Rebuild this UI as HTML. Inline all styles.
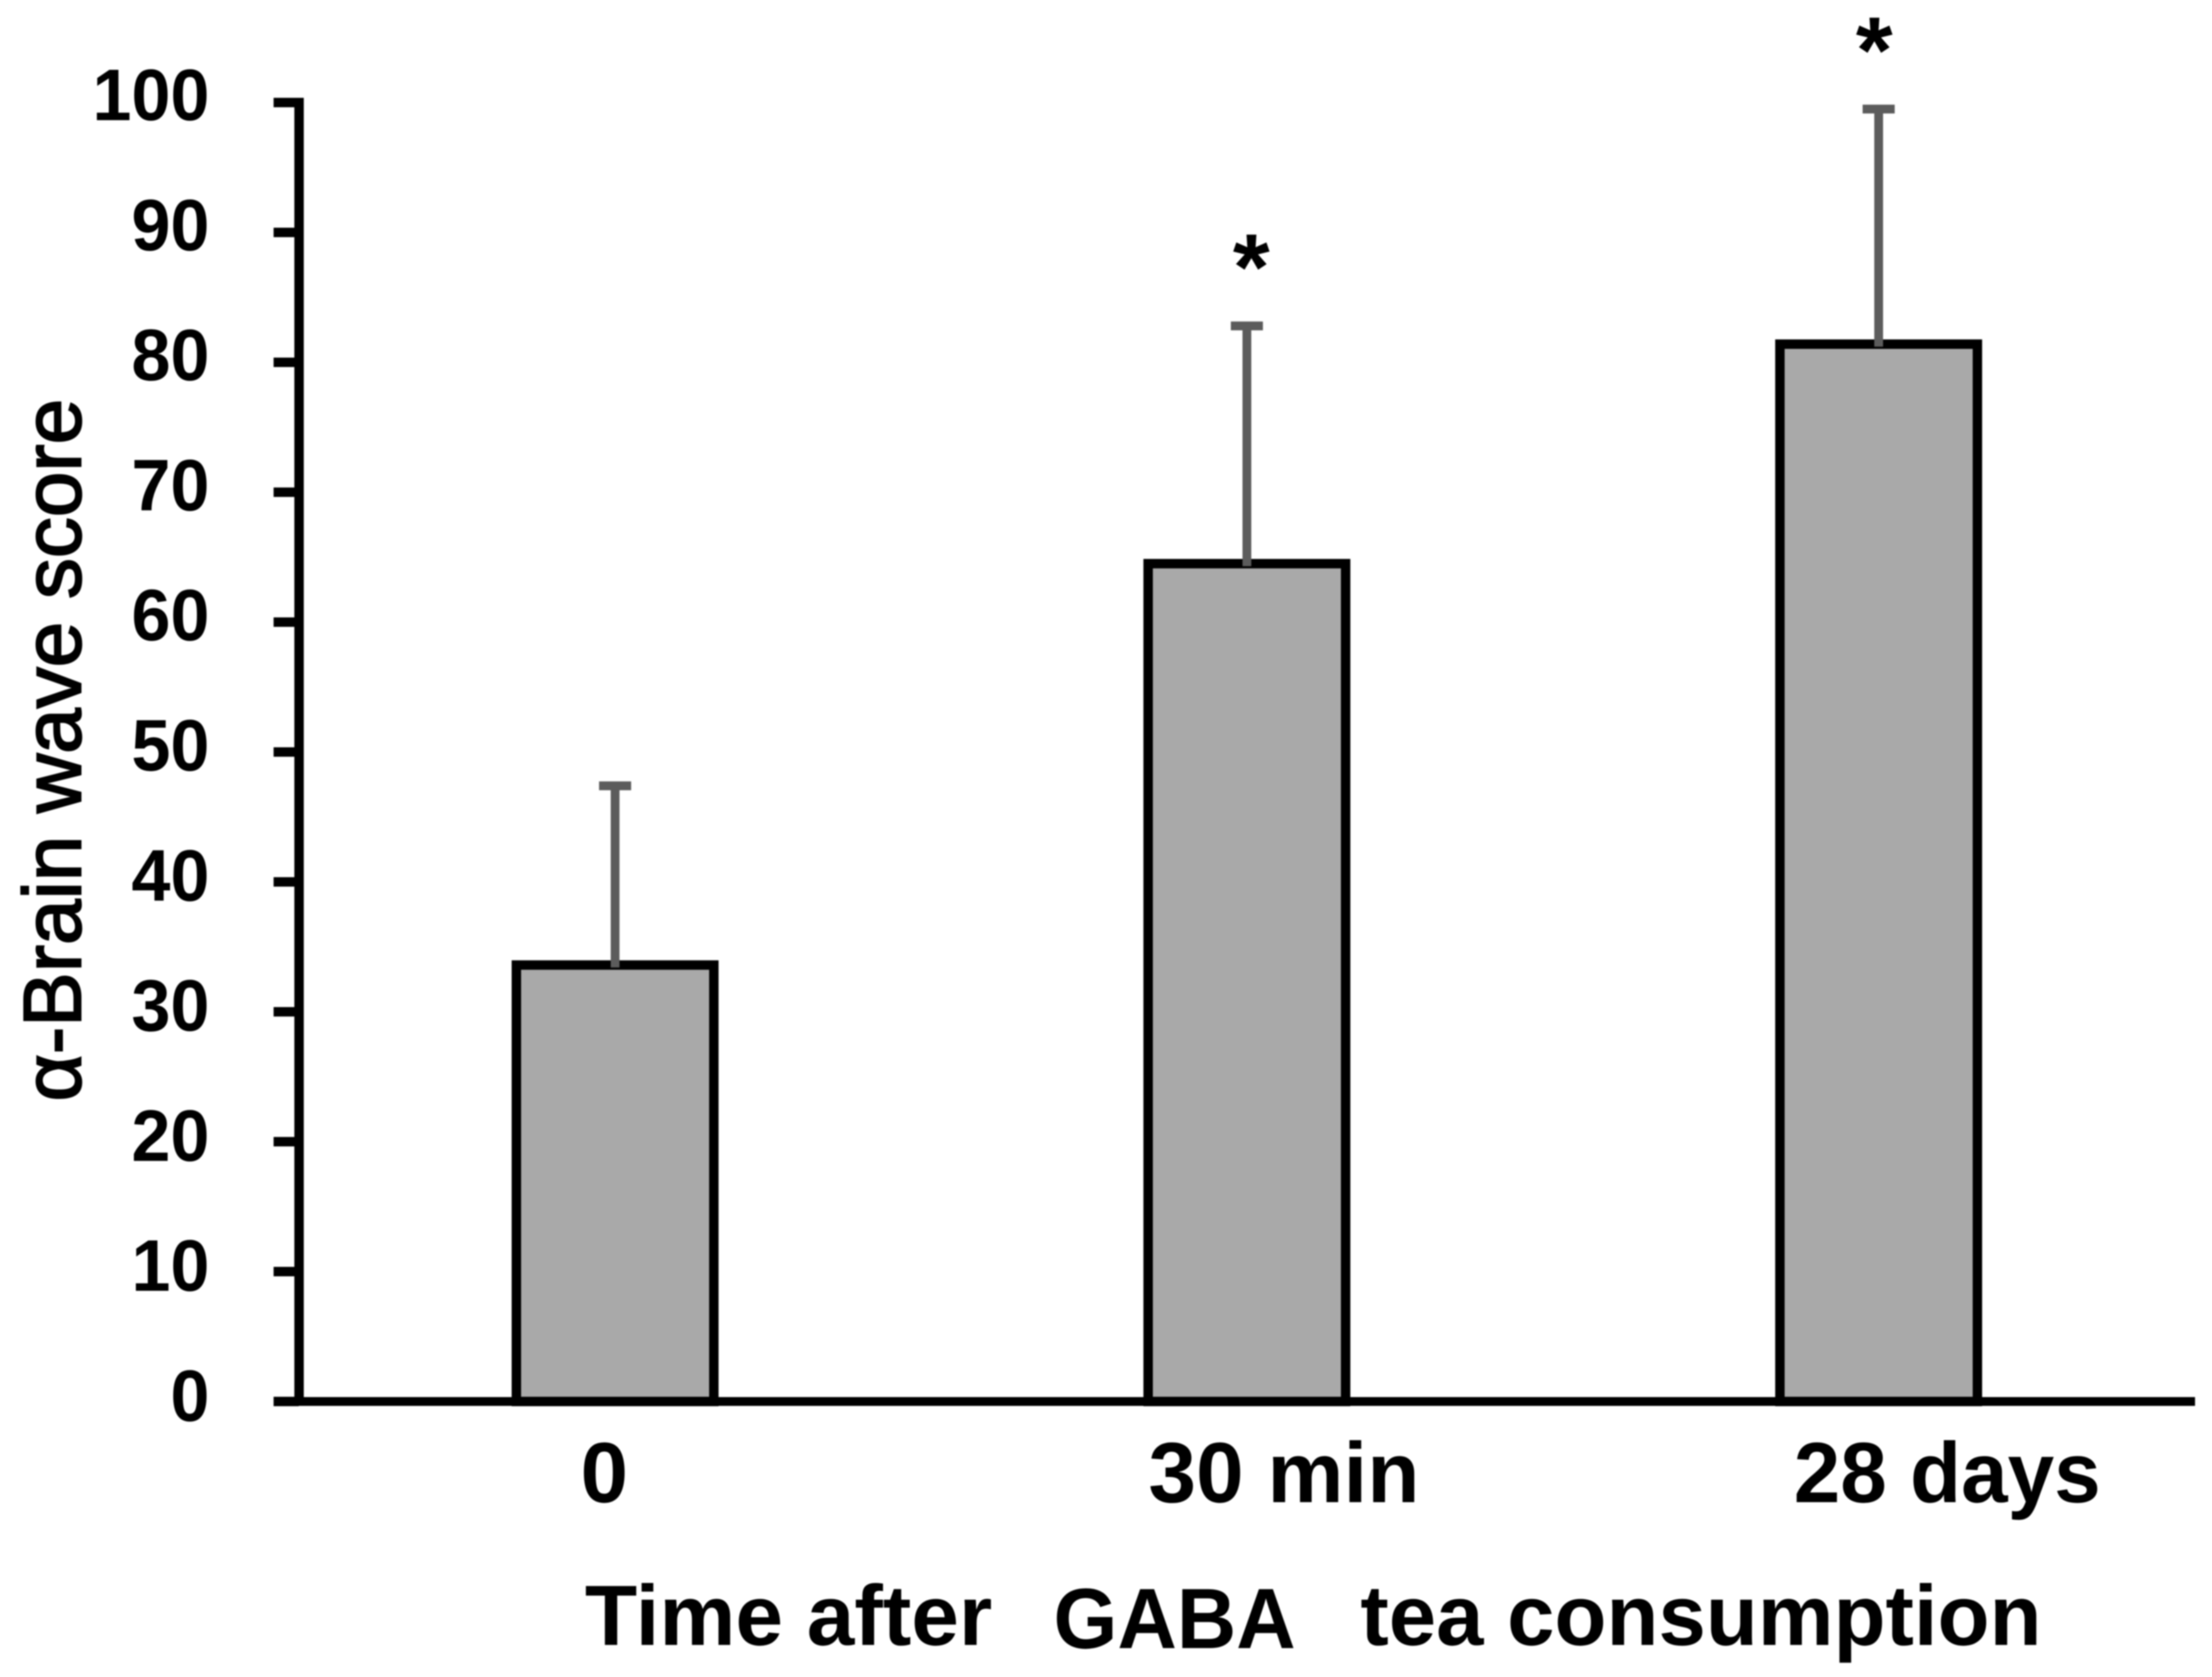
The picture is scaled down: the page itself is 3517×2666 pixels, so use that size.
<!DOCTYPE html>
<html lang="en">
<head>
<meta charset="utf-8">
<title>α-Brain wave score after GABA tea consumption</title>
<style>
html,body{margin:0;padding:0;background:#fff;overflow:hidden;}
svg{display:block;filter:blur(1px);}
text{font-family:"Liberation Sans",sans-serif;fill:#000;}
.bold{font-weight:bold;}
</style>
</head>
<body>
<svg id="chart" width="3517" height="2666" viewBox="0 0 3517 2666" xmlns="http://www.w3.org/2000/svg">
  <rect x="0" y="0" width="3517" height="2666" fill="#ffffff"/>
  <g id="bars"></g>
  <g id="errors"></g>
  <g id="stars"></g>
  <g id="axes"></g>
  <text transform="translate(128,1751) rotate(-90)" font-size="130" stroke="#000" stroke-width="3" textLength="1117" lengthAdjust="spacingAndGlyphs">α-Brain wave score</text>
  <g>
    <text class="bold" x="930" y="2615" font-size="136">Time after</text>
    <text class="bold" x="1675" y="2620" font-size="136" textLength="385" lengthAdjust="spacingAndGlyphs">GABA</text>
    <text class="bold" x="2163" y="2615" font-size="136" textLength="1083" lengthAdjust="spacingAndGlyphs">tea consumption</text>
  </g>
</svg>
<script>
const categories = ["0", "30 min", "28 days"];
const scores = [33.6, 64.5, 81.4];
const errorValues = [13.8, 18.3, 18.1];
const significance = ["", "*", "*"];
const yTicks = [0, 10, 20, 30, 40, 50, 60, 70, 80, 90, 100];

const SVG_NS = "http://www.w3.org/2000/svg";

function yScale(v) {
  return 2228 - v * 20.65;
}
function xScale(i) {
  return 978 + i * 1004.5;
}
function make(tag, attrs, parent) {
  const el = document.createElementNS(SVG_NS, tag);
  Object.keys(attrs).forEach(function (k) { el.setAttribute(k, attrs[k]); });
  parent.appendChild(el);
  return el;
}

function drawBars() {
  const group = document.getElementById("bars");
  const barWidth = 314;
  scores.forEach(function (v, i) {
    const bar = make("rect", {
      x: xScale(i) - barWidth / 2,
      y: yScale(v),
      width: barWidth,
      height: yScale(0) - yScale(v),
      fill: "#a9a9a9",
      stroke: "#000",
      "stroke-width": 15
    }, group);
    
    
  });
}

function drawErrors() {
  const group = document.getElementById("errors");
  scores.forEach(function (v, i) {
    const cx = xScale(i);
    const top = yScale(v + errorValues[i]);
    const stem = make("line", {
      x1: cx, x2: cx, y1: top, y2: yScale(v) + 4,
      stroke: "#5c5c5c", "stroke-width": 14
    }, group);
    
    
    const cap = make("line", {
      x1: cx - 25.5, x2: cx + 25.5, y1: top, y2: top,
      stroke: "#5c5c5c", "stroke-width": 14
    }, group);
    
    
  });
}

function drawStars() {
  const group = document.getElementById("stars");
  const starNudge = [0, 7, -7];
  significance.forEach(function (s, i) {
    if (!s) return;
    const label = make("text", {
      x: xScale(i) + starNudge[i],
      y: yScale(scores[i] + errorValues[i]) - 42,
      "font-size": 150,
      "text-anchor": "middle",
      "class": "bold"
    }, group);
    label.textContent = s;
    
    
  });
}

function drawAxes() {
  const group = document.getElementById("axes");
  const yAxis = make("rect", { x: 468, y: yScale(100) - 7.5, width: 15, height: yScale(0) - yScale(100) + 14.5, fill: "#000" }, group);
  
  
  const xAxis = make("rect", { x: 435, y: yScale(0) - 7, width: 3055, height: 14, fill: "#000" }, group);
  
  

  yTicks.forEach(function (v) {
    const tick = make("rect", { x: 435, y: yScale(v) - 7.5, width: 40, height: 15, fill: "#000" }, group);
    
    
    const str = String(v);
    const label = make("text", {
      x: 333,
      y: yScale(v) + 28 + (100 - v) * 0.03,
      "font-size": 116,
      "text-anchor": "end",
      "class": "bold",
      textLength: str.length * 62,
      lengthAdjust: "spacingAndGlyphs"
    }, group);
    label.textContent = str;
    
    
  });

  const labelNudge = [-55, -156.5, -135];
  const labelFit = [0, 431, 488];
  categories.forEach(function (c, i) {
    const attrs = {
      x: xScale(i) + labelNudge[i],
      y: 2388,
      "font-size": 136,
      "class": "bold"
    };
    if (labelFit[i]) {
      attrs.textLength = labelFit[i];
      attrs.lengthAdjust = "spacingAndGlyphs";
    }
    const label = make("text", attrs, group);
    label.textContent = c;
    
    
  });
}

drawBars();
drawErrors();
drawStars();
drawAxes();
</script>
</body>
</html>
